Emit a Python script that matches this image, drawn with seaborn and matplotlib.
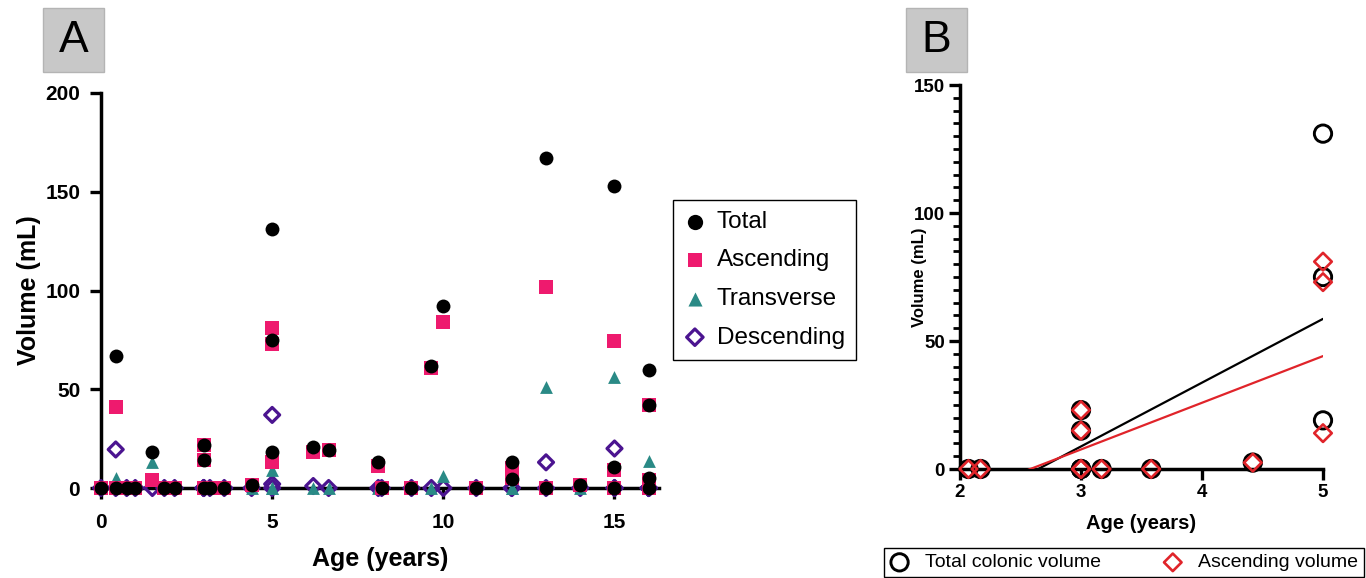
import numpy as np
import pandas as pd
import seaborn as sns
import matplotlib.pyplot as plt
from matplotlib.patches import Rectangle
from matplotlib.ticker import MultipleLocator

sns.set_style("ticks")
plt.rcParams['font.family'] = ['Liberation Sans', 'DejaVu Sans']
plt.rcParams.update({'text.color': 'black', 'axes.labelcolor': 'black',
                     'xtick.color': 'black', 'ytick.color': 'black',
                     'axes.edgecolor': 'black'})

# Panel A: volumes by age (one entry per subject)
ages_a = [0.0, 0.43, 0.43, 0.75, 1.0, 1.5, 1.85, 2.15, 3.0, 3.0, 3.0, 3.18, 3.6, 4.4,
          5.0, 5.0, 5.0, 6.2, 6.65, 8.1, 8.2, 9.07, 9.65, 10.0, 10.96, 12.0, 12.0,
          13.0, 13.0, 14.0, 15.0, 15.0, 15.0, 16.0, 16.0, 16.0, 16.0]
total_a = [0, 67, 0, 0, 0, 18, 0, 0, 22, 14, 0, 0, 0, 1.5,
           131, 75, 18, 21, 19, 13, 0, 0, 62, 92, 0, 13, 4.6,
           167, 0, 1.5, 153, 10.5, 0, 60, 42, 5, 0]
asc_a = [0, 41, 0, 0, 0, 4, 0, 0, 22, 14, 0, 0, 0, 1.5,
         81, 73, 13, 18, 19, 11, 0, 0, 61, 84, 0, 10, 5,
         102, 0, 1.5, 74.5, 9, 0, 42, 42, 4, 0]
trans_a = [0, 5, 0, 0, 0, 13, 0, 0, 0, 0, 0, 0, 0, 0,
           9, 0, 0, 0, 0, 0, 0, 0, 0, 6, 0, 0, 0,
           51, 0, 0, 56, 0, 0, 13.5, 0, 0, 0]
desc_a = [0, 19.5, 0, 0, 0, 0, 0, 0, 0, 0, 0, 0, 0, 0,
          37, 2, 0, 1, 0, 0, 0, 0, 0, 0, 0, 0, 0,
          13, 0, 0, 20, 0, 0, 0, 0, 0, 0]

# Panel B: 2-5 year olds
ages_b = [2.07, 2.17, 3.0, 3.0, 3.0, 3.0, 3.17, 3.58, 4.42, 5.0, 5.0, 5.0]
total_b = [0, 0, 23, 15, 0, 0, 0, 0, 2.5, 131, 75, 19]
asc_b = [0, 0, 23, 15, 0, 0, 0, 0, 2.5, 81, 73, 14]

df_a = pd.DataFrame({'Age': ages_a, 'Total': total_a, 'Ascending': asc_a,
                     'Transverse': trans_a, 'Descending': desc_a})
df_b = pd.DataFrame({'Age': ages_b, 'Total': total_b, 'Ascending': asc_b})

fig = plt.figure(figsize=(13.66, 5.78), dpi=100)
axA = fig.add_axes([101/1366, 1-488/578, 558/1366, 395/578])
axB = fig.add_axes([960/1366, 1-469/578, 363/1366, 384/578])

# Chart A: scatter of the four regions (drawn bottom-up so Total sits on top)
styles = {
    'Descending': dict(marker='D', facecolor='none', edgecolor='#4b1490', s=58, linewidth=2.3),
    'Transverse': dict(marker='^', color='#2a8a86', s=85, linewidth=0),
    'Ascending': dict(marker='s', color='#ee1a6e', s=90, linewidth=0),
    'Total': dict(marker='o', color='black', s=100, linewidth=0),
}
for i, name in enumerate(['Descending', 'Transverse', 'Ascending', 'Total']):
    sns.scatterplot(x='Age', y=name, data=df_a, ax=axA, label=name,
                    clip_on=False, zorder=4 + i, **styles[name])

axA.set_xlim(0, 16.3)
axA.set_ylim(0, 200)
axA.set_xticks([0, 5, 10, 15])
axA.set_yticks([0, 50, 100, 150, 200])
axA.set_xlabel('Age (years)', fontsize=18, fontweight='bold', labelpad=11)
axA.set_ylabel('Volume (mL)', fontsize=18, fontweight='bold')
axA.yaxis.set_label_coords(-0.108, 0.5)

h, l = axA.get_legend_handles_labels()
order = [3, 2, 1, 0]
axA.legend([h[i] for i in order], [l[i] for i in order], loc='upper left',
           bbox_to_anchor=(673/1366, 1-200/578), bbox_transform=fig.transFigure,
           frameon=True, fancybox=False, edgecolor='black', framealpha=1,
           fontsize=17.5, labelspacing=0.68, handletextpad=0.45, handlelength=0.9,
           borderpad=0.45, borderaxespad=0, markerscale=1.1)

# Chart B: linear fits + open markers
sns.regplot(x='Age', y='Total', data=df_b, ax=axB, ci=None, scatter=False,
            color='black', line_kws=dict(linewidth=1.6, zorder=3))
sns.regplot(x='Age', y='Ascending', data=df_b, ax=axB, ci=None, scatter=False,
            color='#e0242a', line_kws=dict(linewidth=1.6, zorder=3))
sns.scatterplot(x='Age', y='Total', data=df_b, ax=axB, marker='o', s=155,
                facecolor='none', edgecolor='black', linewidth=2.1,
                clip_on=False, zorder=5, label='Total colonic volume')
sns.scatterplot(x='Age', y='Ascending', data=df_b, ax=axB, marker='D', s=80,
                facecolor='none', edgecolor='#e0242a', linewidth=1.9,
                clip_on=False, zorder=6, label='Ascending volume')

axB.set_xlim(2, 5)
axB.set_ylim(0, 150)
axB.set_xticks([2, 3, 4, 5])
axB.set_yticks([0, 50, 100, 150])
axB.yaxis.set_minor_locator(MultipleLocator(5))
axB.set_xlabel('Age (years)', fontsize=14.5, fontweight='bold', labelpad=9)
axB.set_ylabel('Volume (mL)', fontsize=12, fontweight='bold')
axB.yaxis.set_label_coords(-0.09, 0.5)

hb, lb = axB.get_legend_handles_labels()
axB.legend_.remove()
fig.legend(hb, lb, loc='upper left', ncol=2,
           bbox_to_anchor=(884/1366, 1-548/578), bbox_transform=fig.transFigure,
           frameon=True, fancybox=False, edgecolor='black', framealpha=1,
           fontsize=14, handletextpad=0.8, handlelength=1.0, columnspacing=3.2,
           borderpad=0.3, borderaxespad=0)

for ax, size, pad in [(axA, 15, 7), (axB, 13.5, 3)]:
    sns.despine(ax=ax)
    for side in ['left', 'bottom']:
        ax.spines[side].set_linewidth(2.5)
    ax.tick_params(which='major', width=2.4, length=8, labelsize=size, pad=pad)
    for lbl in ax.get_xticklabels() + ax.get_yticklabels():
        lbl.set_fontweight('bold')
axA.tick_params(axis='x', pad=10)
axB.tick_params(which='minor', width=2, length=5)

# panel letters in grey boxes
for x0, letter in [(43, 'A'), (906, 'B')]:
    fig.add_artist(Rectangle((x0/1366, 1-72/578), 61/1366, 64/578, transform=fig.transFigure,
                             facecolor='#c8c8c8', edgecolor='#b4b4b4', linewidth=1))
    fig.text((x0 + 30.5)/1366, 1-41/578, letter, ha='center', va='center', fontsize=32)

fig.savefig('out.png', dpi=100)
